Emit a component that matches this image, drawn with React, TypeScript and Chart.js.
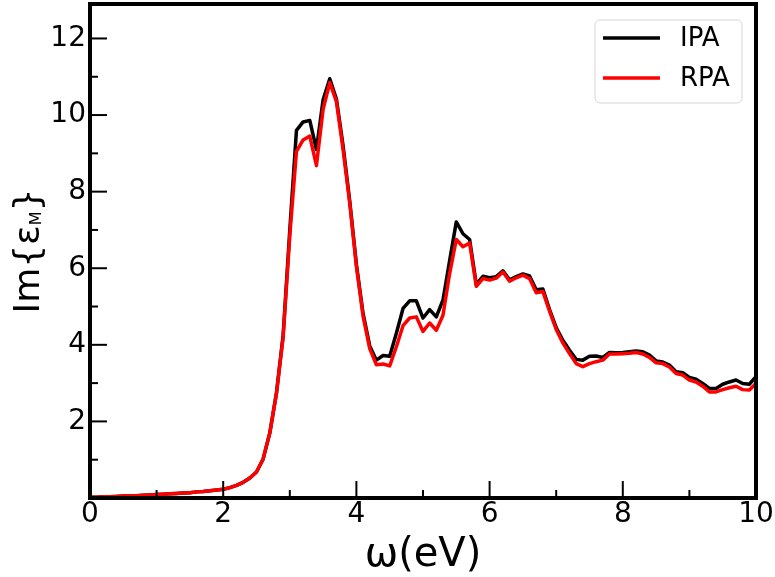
import React, { useEffect, useRef } from 'react';
import { Chart, registerables } from 'chart.js';

Chart.register(...registerables);

// Photon energy (eV)
const omega = [
  0.0, 0.1, 0.2, 0.3, 0.4, 0.5, 0.6, 0.7, 0.8, 0.9,
  1.0, 1.1, 1.2, 1.3, 1.4, 1.5, 1.6, 1.7, 1.8, 1.9,
  2.0, 2.1, 2.2, 2.3, 2.4, 2.5, 2.6, 2.7, 2.8, 2.9,
  3.0, 3.1, 3.2, 3.3, 3.4, 3.5, 3.6, 3.7, 3.8, 3.9,
  4.0, 4.1, 4.2, 4.3, 4.4, 4.5, 4.6, 4.7, 4.8, 4.9,
  5.0, 5.1, 5.2, 5.3, 5.4, 5.5, 5.6, 5.7, 5.8, 5.9,
  6.0, 6.1, 6.2, 6.3, 6.4, 6.5, 6.6, 6.7, 6.8, 6.9,
  7.0, 7.1, 7.2, 7.3, 7.4, 7.5, 7.6, 7.7, 7.8, 7.9,
  8.0, 8.1, 8.2, 8.3, 8.4, 8.5, 8.6, 8.7, 8.8, 8.9,
  9.0, 9.1, 9.2, 9.3, 9.4, 9.5, 9.6, 9.7, 9.8, 9.9,
  10.0,
];

// Im{eps_M}, independent-particle approximation
const ipa = [
  0.02, 0.02, 0.03, 0.03, 0.04, 0.05, 0.05, 0.06, 0.07, 0.08,
  0.09, 0.10, 0.11, 0.12, 0.13, 0.14, 0.16, 0.17, 0.19, 0.21,
  0.23, 0.27, 0.33, 0.41, 0.52, 0.68, 1.02, 1.70, 2.75, 4.25,
  7.00, 9.60, 9.82, 9.86, 9.10, 10.40, 10.95, 10.42, 9.20, 7.75,
  6.10, 4.82, 3.97, 3.60, 3.72, 3.70, 4.30, 4.95, 5.15, 5.15,
  4.70, 4.92, 4.73, 5.17, 6.20, 7.21, 6.90, 6.75, 5.58, 5.79,
  5.75, 5.78, 5.93, 5.70, 5.78, 5.85, 5.80, 5.44, 5.46, 4.92,
  4.45, 4.12, 3.86, 3.62, 3.60, 3.70, 3.71, 3.67, 3.80, 3.79,
  3.80, 3.82, 3.84, 3.82, 3.73, 3.58, 3.55, 3.47, 3.30, 3.27,
  3.15, 3.10, 2.99, 2.86, 2.86, 2.97, 3.03, 3.08, 2.99, 2.97,
  3.17,
];

// Im{eps_M}, random-phase approximation
const rpa = [
  0.02, 0.02, 0.03, 0.03, 0.04, 0.05, 0.05, 0.06, 0.07, 0.08,
  0.09, 0.10, 0.11, 0.12, 0.13, 0.14, 0.16, 0.17, 0.19, 0.21,
  0.23, 0.27, 0.33, 0.41, 0.52, 0.68, 1.02, 1.70, 2.73, 4.20,
  6.85, 9.05, 9.35, 9.45, 8.68, 10.15, 10.85, 10.35, 9.10, 7.70,
  6.05, 4.75, 3.90, 3.48, 3.50, 3.45, 3.95, 4.50, 4.70, 4.73,
  4.35, 4.57, 4.38, 4.77, 5.86, 6.75, 6.56, 6.66, 5.53, 5.73,
  5.69, 5.74, 5.90, 5.66, 5.75, 5.82, 5.73, 5.36, 5.39, 4.88,
  4.40, 4.05, 3.77, 3.51, 3.43, 3.51, 3.56, 3.60, 3.76, 3.76,
  3.77, 3.78, 3.80, 3.76, 3.67, 3.53, 3.51, 3.42, 3.25, 3.21,
  3.08, 3.03, 2.92, 2.77, 2.77, 2.83, 2.88, 2.92, 2.83, 2.82,
  2.99,
];

const seriesLabels = ['IPA', 'RPA'];
const seriesColors = ['#000000', '#ff0000'];
const xTickLabels = ['0', '2', '4', '6', '8', '10'];
const yTickLabels = ['2', '4', '6', '8', '10', '12'];
const xTitle = 'ω(eV)';
const yTitleMain = 'Im{ε';
const yTitleSub = 'M';
const yTitleEnd = '}';

const FONT = '"DejaVu Sans", sans-serif';

const framePlugin = {
  id: 'mplFrame',
  afterDatasetsDraw(chart: any) {
    const { ctx, chartArea, scales } = chart;
    const { left, right, top, bottom } = chartArea;
    const xs = scales.x;
    const ys = scales.y;
    ctx.save();
    ctx.strokeStyle = '#000';
    ctx.lineCap = 'butt';
    // inward ticks
    ctx.lineWidth = 2;
    xs.ticks.forEach((t: any) => {
      const px = xs.getPixelForValue(t.value);
      const major = xTickLabels.includes(String(t.value));
      const len = major ? 17 : 8;
      ctx.beginPath();
      ctx.moveTo(px, bottom);
      ctx.lineTo(px, bottom - len);
      ctx.stroke();
    });
    ys.ticks.forEach((t: any) => {
      const py = ys.getPixelForValue(t.value);
      const major = t.value % 2 === 0;
      const len = major ? 17 : 8;
      ctx.beginPath();
      ctx.moveTo(left, py);
      ctx.lineTo(left + len, py);
      ctx.stroke();
    });
    // spines
    ctx.lineWidth = 4;
    ctx.strokeRect(left, top, right - left, bottom - top);

    // x title
    ctx.fillStyle = '#000';
    ctx.font = `40px ${FONT}`;
    ctx.textAlign = 'center';
    ctx.textBaseline = 'alphabetic';
    ctx.fillText(xTitle, (left + right) / 2, 566);

    // y title (rotated, with subscript)
    const bigFont = `36px ${FONT}`;
    const subFont = `16px ${FONT}`;
    ctx.font = bigFont;
    const w1 = ctx.measureText(yTitleMain).width;
    const w3 = ctx.measureText(yTitleEnd).width;
    ctx.font = subFont;
    const w2 = ctx.measureText(yTitleSub).width;
    const total = w1 + w2 + w3;
    ctx.translate(39, (top + bottom) / 2);
    ctx.rotate(-Math.PI / 2);
    ctx.textAlign = 'left';
    let cx = -total / 2;
    ctx.font = bigFont;
    ctx.fillText(yTitleMain, cx, 0);
    cx += w1;
    ctx.font = subFont;
    ctx.fillText(yTitleSub, cx, 2);
    cx += w2;
    ctx.font = bigFont;
    ctx.fillText(yTitleEnd, cx, 0);
    ctx.restore();

    // legend
    ctx.save();
    const lx = 595, ly = 20, lw = 147, lh = 83, r = 5;
    ctx.beginPath();
    ctx.moveTo(lx + r, ly);
    ctx.lineTo(lx + lw - r, ly);
    ctx.arcTo(lx + lw, ly, lx + lw, ly + r, r);
    ctx.lineTo(lx + lw, ly + lh - r);
    ctx.arcTo(lx + lw, ly + lh, lx + lw - r, ly + lh, r);
    ctx.lineTo(lx + r, ly + lh);
    ctx.arcTo(lx, ly + lh, lx, ly + lh - r, r);
    ctx.lineTo(lx, ly + r);
    ctx.arcTo(lx, ly, lx + r, ly, r);
    ctx.closePath();
    ctx.fillStyle = 'rgba(255,255,255,0.8)';
    ctx.fill();
    ctx.strokeStyle = '#d6d6d6';
    ctx.lineWidth = 1;
    ctx.stroke();
    chart.data.datasets.forEach((ds: any, i: number) => {
      const yy = 38 + i * 40;
      ctx.strokeStyle = ds.borderColor;
      ctx.lineWidth = 3.5;
      ctx.beginPath();
      ctx.moveTo(603, yy);
      ctx.lineTo(660, yy);
      ctx.stroke();
      ctx.fillStyle = '#000';
      ctx.font = `26px ${FONT}`;
      ctx.textAlign = 'left';
      ctx.textBaseline = 'middle';
      ctx.fillText(ds.label, 680, yy + 1);
    });
    ctx.restore();
  },
};

export default function App() {
  const canvasRef = useRef<HTMLCanvasElement | null>(null);

  useEffect(() => {
    if (!canvasRef.current) return;
    const mk = (vals: number[]) => omega.map((x, i) => ({ x, y: vals[i] }));
    const chart = new Chart(canvasRef.current, {
      type: 'line',
      data: {
        datasets: [
          {
            label: seriesLabels[0],
            data: mk(ipa),
            borderColor: seriesColors[0],
            backgroundColor: seriesColors[0],
            borderWidth: 3.5,
            pointRadius: 0,
            tension: 0,
            borderJoinStyle: 'round',
            order: 1,
          },
          {
            label: seriesLabels[1],
            data: mk(rpa),
            borderColor: seriesColors[1],
            backgroundColor: seriesColors[1],
            borderWidth: 3.5,
            pointRadius: 0,
            tension: 0,
            borderJoinStyle: 'round',
            order: 0,
          },
        ],
      },
      options: {
        animation: false,
        responsive: true,
        maintainAspectRatio: false,
        layout: { padding: { top: 4, right: 19, left: 0, bottom: 0 } },
        plugins: {
          legend: { display: false },
          tooltip: { enabled: false },
          title: { display: false },
        },
        scales: {
          x: {
            type: 'linear',
            min: 0,
            max: 10,
            afterFit: (s: any) => { s.height = 79; s.paddingLeft = 0; s.paddingRight = 0; },
            grid: { display: false, drawTicks: false },
            border: { display: false },
            ticks: {
              stepSize: 1,
              autoSkip: false,
              maxRotation: 0,
              padding: 0,
              color: '#000',
              font: { family: FONT, size: 28 },
              callback: (v: any) => (xTickLabels.includes(String(v)) ? String(v) : ''),
            },
          },
          y: {
            type: 'linear',
            min: 0,
            max: 12.9,
            afterFit: (s: any) => { s.width = 90; s.paddingTop = 0; s.paddingBottom = 0; },
            grid: { display: false, drawTicks: false },
            border: { display: false },
            ticks: {
              stepSize: 1,
              includeBounds: false,
              autoSkip: false,
              padding: 4,
              color: '#000',
              font: { family: FONT, size: 28 },
              callback: (v: any) => (yTickLabels.includes(String(v)) ? String(v) : ''),
            },
          },
        },
      },
      plugins: [framePlugin],
    } as any);
    return () => chart.destroy();
  }, []);

  return (
    <div style={{ position: 'absolute', left: 0, top: 0, width: 775, height: 577, background: '#fff' }}>
      <canvas ref={canvasRef} />
    </div>
  );
}
